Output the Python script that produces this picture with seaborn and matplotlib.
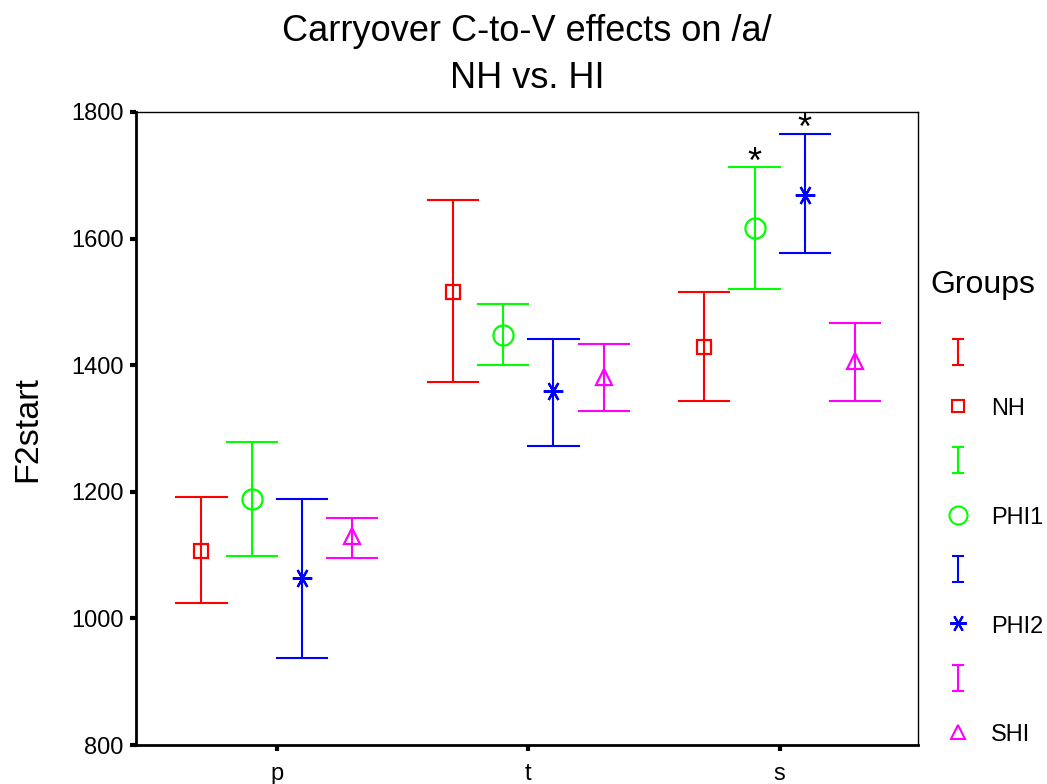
import numpy as np
import pandas as pd
import matplotlib
matplotlib.use("Agg")
import matplotlib.pyplot as plt
import seaborn as sns
from matplotlib.path import Path
from matplotlib.lines import Line2D

# ---- data ----
consonants = ["p", "t", "s"]
groups = ["NH", "PHI1", "PHI2", "SHI"]

nh_mean = [1107, 1516, 1429]
nh_lower = [1024, 1373, 1344]
nh_upper = [1192, 1661, 1515]

phi1_mean = [1189, 1448, 1617]
phi1_lower = [1098, 1400, 1521]
phi1_upper = [1278, 1497, 1713]

phi2_mean = [1064, 1359, 1669]
phi2_lower = [938, 1272, 1577]
phi2_upper = [1188, 1441, 1766]

shi_mean = [1130, 1382, 1407]
shi_lower = [1095, 1328, 1344]
shi_upper = [1158, 1433, 1466]

significant = [("s", "PHI1"), ("s", "PHI2")]

colors = ["#ff0000", "#00ff00", "#0000ff", "#ff00ff"]

table = {
    "NH": (nh_lower, nh_mean, nh_upper),
    "PHI1": (phi1_lower, phi1_mean, phi1_upper),
    "PHI2": (phi2_lower, phi2_mean, phi2_upper),
    "SHI": (shi_lower, shi_mean, shi_upper),
}
rows = []
for g in groups:
    lo, me, up = table[g]
    for i, c in enumerate(consonants):
        for v in (lo[i], me[i], up[i]):
            rows.append({"consonant": c, "group": g, "F2start": v})
df = pd.DataFrame(rows)

# ---- figure ----
plt.rcParams["font.family"] = ["Liberation Sans", "DejaVu Sans"]
fig = plt.figure(figsize=(10.47, 7.84), dpi=100)
ax = fig.add_axes([136 / 1047, 1 - 745 / 784, (918 - 136) / 1047, (745 - 112) / 784])

star = (6, 2, 90)
markers = ["s", "o", star, "^"]
dodge = 0.6
sns.pointplot(data=df, x="consonant", y="F2start", hue="group",
              order=consonants, hue_order=groups, palette=colors,
              estimator="median", errorbar=("pi", 100), dodge=dodge,
              markers=markers, linestyle="none", capsize=0.2,
              err_kws={"linestyle": "-", "linewidth": 1.5},
              markerfacecolor="none", markeredgewidth=1.6,
              legend=False, ax=ax)

sizes = {"s": 10, "o": 14.5, "^": 11.5}
for ln in ax.lines:
    m = ln.get_marker()
    if isinstance(m, str) and m in sizes:
        ln.set_markersize(sizes[m])
    elif isinstance(m, tuple):
        ln.set_markersize(14)

# significance asterisks
offsets = np.linspace(-dodge / 2, dodge / 2, len(groups))
for c, g in significant:
    ci = consonants.index(c)
    gi = groups.index(g)
    top = table[g][2][ci]
    ax.text(ci + offsets[gi], top - 9, "*", ha="center", va="baseline",
            fontsize=26, color="black")

ax.set_ylim(800, 1800)
ax.set_xlim(-0.56, 2.55)
ax.set_yticks([800, 1000, 1200, 1400, 1600, 1800])
ax.set_xlabel("")
ax.set_ylabel("F2start", fontsize=24.5, labelpad=20)
ax.set_title("Carryover C-to-V effects on /a/\nNH vs. HI", fontsize=26,
             pad=17, linespacing=1.45)
ax.tick_params(axis="y", direction="out", length=4, width=3, labelsize=17, pad=5)
ax.tick_params(axis="x", direction="out", length=4, width=3, labelsize=17, pad=9)
for s in ["left", "bottom"]:
    ax.spines[s].set_linewidth(2)
for s in ["top", "right"]:
    ax.spines[s].set_linewidth(1)
ax.set_facecolor("white")

# legend in the SPSS style
ibeam = Path([(-0.22, -0.5), (0.22, -0.5), (0, -0.5), (0, 0.5), (-0.22, 0.5), (0.22, 0.5)],
             [Path.MOVETO, Path.LINETO, Path.MOVETO, Path.LINETO, Path.MOVETO, Path.LINETO])
handles, labels = [], []
leg_sizes = [9, 13, 12, 10]
for g, c, m, ms in zip(groups, colors, markers, leg_sizes):
    handles.append(Line2D([], [], color=c, marker=ibeam, markersize=19,
                          markerfacecolor="none", markeredgewidth=1.5, linestyle="none"))
    labels.append("")
    handles.append(Line2D([], [], color=c, marker=m, markersize=ms,
                          markerfacecolor="none", markeredgewidth=1.5, linestyle="none"))
    labels.append(g)
leg = ax.legend(handles, labels, title="Groups", loc="upper left",
                bbox_to_anchor=(1.004, 0.766), frameon=False, fontsize=17,
                title_fontsize=23, labelspacing=1.30, handletextpad=0.22,
                handlelength=2.35, handleheight=1.0, borderaxespad=0)
leg._legend_box.align = "left"
leg._legend_box.sep = 1.30 * 17 + 8.6

fig.savefig("out.png", dpi=100, facecolor="white")
